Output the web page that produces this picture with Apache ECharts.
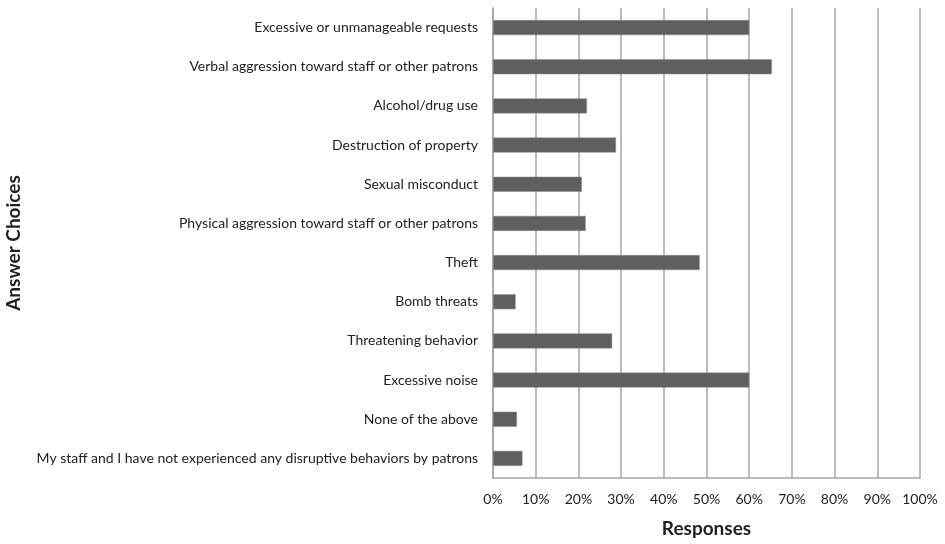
<!DOCTYPE html>
<html><head><meta charset="utf-8">
<script src="https://cdn.jsdelivr.net/npm/echarts@6/dist/echarts.min.js"></script>
<style>html,body{margin:0;padding:0;background:#fff}#c{width:945px;height:544px}</style>
</head><body><div id="c"></div>
<script>
const categories = [
  "Excessive or unmanageable requests",
  "Verbal aggression toward staff or other patrons",
  "Alcohol/drug use",
  "Destruction of property",
  "Sexual misconduct",
  "Physical aggression toward staff or other patrons",
  "Theft",
  "Bomb threats",
  "Threatening behavior",
  "Excessive noise",
  "None of the above",
  "My staff and I have not experienced any disruptive behaviors by patrons"
];
const responses = [60.0, 65.3, 22.0, 28.8, 20.8, 21.7, 48.4, 5.3, 27.9, 60.0, 5.6, 6.9];
const xTicks = [0, 10, 20, 30, 40, 50, 60, 70, 80, 90, 100];

const font = "Lato, 'Open Sans', sans-serif";
const chart = echarts.init(document.getElementById('c'));
chart.setOption({
  animation: false,
  grid: { left: 493, right: 25, top: 8, bottom: 66, containLabel: false },
  xAxis: {
    type: 'value', min: 0, max: 100, interval: 10,
    name: 'Responses', nameLocation: 'middle', nameGap: 41,
    nameTextStyle: { fontFamily: font, fontWeight: 'bold', fontSize: 19, color: '#222' },
    axisLine: { show: true, lineStyle: { color: '#a6a6a6', width: 1.5 } },
    axisTick: { show: false },
    axisLabel: { formatter: v => v + '%', fontFamily: font, fontSize: 14, color: '#222', margin: 14 },
    splitLine: { show: true, lineStyle: { color: '#a6a6a6', width: 1.5 } }
  },
  yAxis: {
    type: 'category', data: categories, inverse: true,
    name: 'Answer Choices', nameLocation: 'middle', nameGap: 470, nameRotate: 90,
    nameTextStyle: { fontFamily: font, fontWeight: 'bold', fontSize: 19, color: '#222' },
    axisLine: { show: true, lineStyle: { color: '#a6a6a6', width: 1.5 } },
    axisTick: { show: false },
    axisLabel: { fontFamily: font, fontSize: 14, color: '#222', margin: 15 },
    splitLine: { show: false }
  },
  series: [{
    type: 'bar', data: responses, barWidth: 15,
    itemStyle: { color: '#5f5f5f', borderColor: '#8a8a8a', borderWidth: 0.5 }
  }]
});
</script></body></html>
